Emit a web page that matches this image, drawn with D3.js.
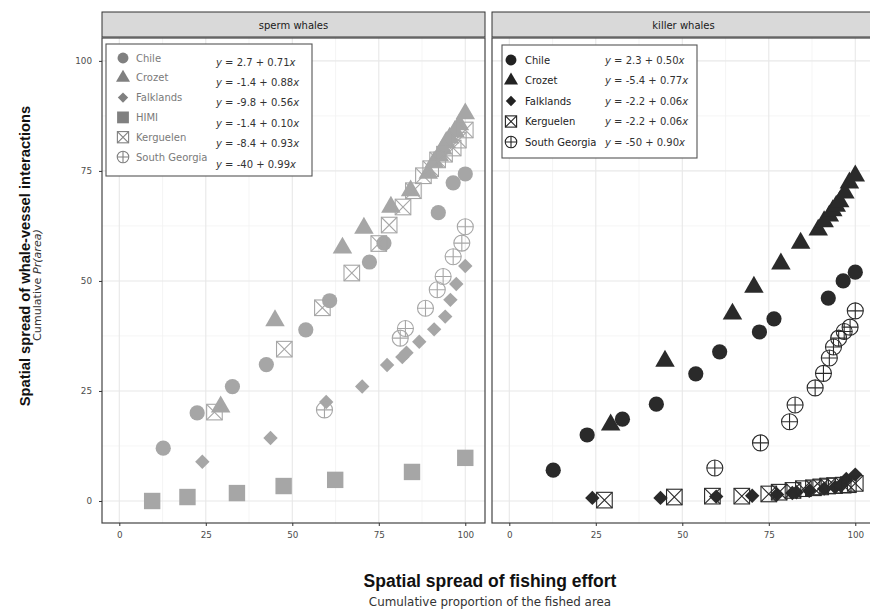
<!DOCTYPE html>
<html><head><meta charset="utf-8">
<script src="https://cdn.jsdelivr.net/npm/d3@7"></script>
<style>body{margin:0;background:#fff;} text{font-family:"DejaVu Sans",Verdana,sans-serif;} text.ttl{font-family:"Liberation Sans",Arial,sans-serif;}</style>
</head><body><svg id="c" width="870" height="610"></svg>
<script>
// ---------- data ----------
const facets = ["sperm whales", "killer whales"];
const xTicks = [0, 25, 50, 75, 100];
const yTicks = [0, 25, 50, 75, 100];

const chileX = [12.7, 22.5, 32.7, 42.5, 53.9, 60.8, 72.3, 76.5, 92.2, 96.5, 100];
const spermChileY = [12, 20, 26, 31, 38.9, 45.5, 54.3, 58.6, 65.5, 72.3, 74.3];
const killerChileY = [7, 15, 18.6, 22, 28.9, 33.9, 38.4, 41.4, 46.1, 50, 52];

const crozetX = [29.3, 45, 64.5, 70.7, 78.5, 84.2, 89.3, 91, 92.5, 93.5, 94.5, 95.5, 97, 98.3, 100];
const spermCrozetY = [21.4, 41, 57.5, 62, 66.8, 70.5, 74.5, 77, 78.5, 80, 81.5, 82.5, 84, 85.5, 88];
const killerCrozetY = [17.3, 31.8, 42.5, 48.6, 53.9, 58.6, 61.6, 63.5, 64.8, 66, 67, 68, 70, 72.3, 73.9];

const falklandsX = [24, 43.7, 59.8, 70.2, 77.4, 81.8, 83, 86.7, 91, 94.2, 95.7, 97.4, 100];
const spermFalklandsY = [8.9, 14.3, 22.5, 26, 30.9, 32.7, 33.7, 36.2, 39, 41.9, 45.7, 49.3, 53.4];
const killerFalklandsY = [0.7, 0.7, 1, 1.2, 1.5, 1.8, 2, 2.3, 2.8, 3.2, 3.6, 5, 6];

const himiX = [9.5, 19.7, 34, 47.5, 62.4, 84.6, 100];
const spermHimiY = [0, 0.9, 1.8, 3.4, 4.8, 6.6, 9.8];

const kerguelenX = [27.5, 47.7, 58.7, 67.2, 75, 78, 82, 85, 87.9, 90, 92, 94, 96.5, 98, 100];
const spermKerguelenY = [20.2, 34.5, 43.9, 51.8, 58.5, 62.7, 66.8, 70.5, 73.9, 75.5, 77.5, 78.8, 80.2, 82, 84.3];
const killerKerguelenY = [0.2, 0.9, 1.1, 1.1, 1.6, 2, 2.4, 2.8, 3, 3.2, 3.4, 3.5, 3.6, 3.7, 4];

const spermGeorgiaX = [59.3, 81.2, 82.7, 88.5, 91.9, 93.6, 96.5, 99, 100];
const spermGeorgiaY = [20.7, 37, 39.2, 43.8, 48, 51, 55.5, 58.6, 62.3];
const killerGeorgiaX = [59.4, 72.6, 81, 82.6, 88.4, 90.8, 92.5, 93.7, 95.2, 96.8, 98.5, 100];
const killerGeorgiaY = [7.5, 13.2, 18, 21.8, 25.7, 29, 32.5, 35, 37, 38.5, 39.5, 43.2];

const spermRegions = ["Chile", "Crozet", "Falklands", "HIMI", "Kerguelen", "South Georgia"];
const spermEquations = [["2.7", "0.71"], ["-1.4", "0.88"], ["-9.8", "0.56"], ["-1.4", "0.10"], ["-8.4", "0.93"], ["-40", "0.99"]];
const killerRegions = ["Chile", "Crozet", "Falklands", "Kerguelen", "South Georgia"];
const killerEquations = [["2.3", "0.50"], ["-5.4", "0.77"], ["-2.2", "0.06"], ["-2.2", "0.06"], ["-50", "0.90"]];

const shapeOf = {"Chile": "circle", "Crozet": "triangle", "Falklands": "diamond", "HIMI": "square", "Kerguelen": "squarecross", "South Georgia": "circleplus"};

// ---------- build ----------
const svg = d3.select("#c");
const W = 383, pTop = 38, pBottom = 523;
const panels = [
  {name: facets[0], x0: 102, color: "#a6a6a6", legColor: "#808080", labColor: "#7a7a7a",
   series: [["Chile", chileX, spermChileY], ["Crozet", crozetX, spermCrozetY], ["Falklands", falklandsX, spermFalklandsY],
            ["HIMI", himiX, spermHimiY], ["Kerguelen", kerguelenX, spermKerguelenY], ["South Georgia", spermGeorgiaX, spermGeorgiaY]],
   regions: spermRegions, eqs: spermEquations,
   box: [106, 44, 206, 132], symX: 123, labX: 136, eqX: 216, labY0: 58, labStep: 19.8, eqY0: 62, eqStep: 20.4},
  {name: facets[1], x0: 492, color: "#2a2a2a", legColor: "#222", labColor: "#222",
   series: [["Chile", chileX, killerChileY], ["Crozet", crozetX, killerCrozetY], ["Falklands", falklandsX, killerFalklandsY],
            ["Kerguelen", kerguelenX, killerKerguelenY], ["South Georgia", killerGeorgiaX, killerGeorgiaY]],
   regions: killerRegions, eqs: killerEquations,
   box: [502, 45, 195, 113], symX: 511, labX: 525, eqX: 605, labY0: 60, labStep: 20.5, eqY0: 60, eqStep: 20.5}
];

const y = d3.scaleLinear().domain([-5, 105.2]).range([pBottom, pTop]);
const minor = [12.5, 37.5, 62.5, 87.5];

function addShape(g, shape, cx, cy, s, color) {
  const sw = 1.1;
  if (shape === "circle") {
    g.append("circle").attr("cx", cx).attr("cy", cy).attr("r", 7.6 * s).attr("fill", color);
  } else if (shape === "triangle") {
    const a = 19.5 * s, h = a * 0.866;
    g.append("path").attr("d", `M${cx},${cy - h * 2 / 3}L${cx + a / 2},${cy + h / 3}L${cx - a / 2},${cy + h / 3}Z`).attr("fill", color);
  } else if (shape === "diamond") {
    const d = 7.2 * s;
    g.append("path").attr("d", `M${cx},${cy - d}L${cx + d},${cy}L${cx},${cy + d}L${cx - d},${cy}Z`).attr("fill", color);
  } else if (shape === "square") {
    const d = 8.2 * s;
    g.append("rect").attr("x", cx - d).attr("y", cy - d).attr("width", 2 * d).attr("height", 2 * d).attr("fill", color);
  } else if (shape === "squarecross") {
    const d = 7.8 * s;
    g.append("rect").attr("x", cx - d).attr("y", cy - d).attr("width", 2 * d).attr("height", 2 * d)
      .attr("fill", "none").attr("stroke", color).attr("stroke-width", sw);
    g.append("path").attr("d", `M${cx - d},${cy - d}L${cx + d},${cy + d}M${cx + d},${cy - d}L${cx - d},${cy + d}`)
      .attr("stroke", color).attr("stroke-width", sw).attr("fill", "none");
  } else if (shape === "circleplus") {
    const r = 8 * s;
    g.append("circle").attr("cx", cx).attr("cy", cy).attr("r", r).attr("fill", "none").attr("stroke", color).attr("stroke-width", sw);
    g.append("path").attr("d", `M${cx - r},${cy}L${cx + r},${cy}M${cx},${cy - r}L${cx},${cy + r}`)
      .attr("stroke", color).attr("stroke-width", sw).attr("fill", "none");
  }
}

const defs = svg.append("defs");

panels.forEach((p, i) => {
  const x = d3.scaleLinear().domain([-5, 105.7]).range([p.x0, p.x0 + W]);
  const g = svg.append("g");
  // strip
  g.append("rect").attr("x", p.x0).attr("y", 12).attr("width", W).attr("height", 25)
    .attr("fill", "#d9d9d9").attr("stroke", "#333").attr("stroke-width", 1);
  g.append("text").attr("x", p.x0 + W / 2).attr("y", 28.5).attr("text-anchor", "middle")
    .attr("font-size", 10).attr("fill", "#1a1a1a").text(p.name);
  // background & grid
  g.append("rect").attr("x", p.x0).attr("y", pTop).attr("width", W).attr("height", pBottom - pTop).attr("fill", "#fff");
  minor.forEach(v => {
    g.append("line").attr("x1", x(v)).attr("x2", x(v)).attr("y1", pTop).attr("y2", pBottom).attr("stroke", "#f2f2f2").attr("stroke-width", 0.8);
    g.append("line").attr("y1", y(v)).attr("y2", y(v)).attr("x1", p.x0).attr("x2", p.x0 + W).attr("stroke", "#f2f2f2").attr("stroke-width", 0.8);
  });
  xTicks.forEach(v => g.append("line").attr("x1", x(v)).attr("x2", x(v)).attr("y1", pTop).attr("y2", pBottom).attr("stroke", "#e8e8e8").attr("stroke-width", 1.1));
  yTicks.forEach(v => g.append("line").attr("y1", y(v)).attr("y2", y(v)).attr("x1", p.x0).attr("x2", p.x0 + W).attr("stroke", "#e8e8e8").attr("stroke-width", 1.1));

  // points
  defs.append("clipPath").attr("id", "clip" + i).append("rect").attr("x", p.x0).attr("y", pTop).attr("width", W).attr("height", pBottom - pTop);
  const pts = g.append("g").attr("clip-path", `url(#clip${i})`);
  p.series.forEach(([reg, xs, ys]) => {
    xs.forEach((xv, k) => addShape(pts, shapeOf[reg], x(xv), y(ys[k]), 1, p.color));
  });

  // border
  g.append("rect").attr("x", p.x0).attr("y", pTop).attr("width", W).attr("height", pBottom - pTop)
    .attr("fill", "none").attr("stroke", "#444").attr("stroke-width", 1.2);

  // x axis
  const xa = g.append("g").attr("transform", `translate(0,${pBottom})`)
    .call(d3.axisBottom(x).tickValues(xTicks).tickSize(3).tickPadding(6).tickFormat(d3.format("d")));
  xa.select(".domain").remove();
  xa.selectAll(".tick line").attr("stroke", "#333");
  xa.selectAll("text").attr("font-size", 8.8).attr("fill", "#4d4d4d");

  if (i === 0) {
    const ya = g.append("g").attr("transform", `translate(${p.x0},0)`)
      .call(d3.axisLeft(y).tickValues(yTicks).tickSize(3).tickPadding(7).tickFormat(d3.format("d")));
    ya.select(".domain").remove();
    ya.selectAll(".tick line").attr("stroke", "#333");
    ya.selectAll("text").attr("font-size", 8.8).attr("fill", "#4d4d4d");
  }

  // legend
  const [bx, by, bw, bh] = p.box;
  g.append("rect").attr("x", bx).attr("y", by).attr("width", bw).attr("height", bh)
    .attr("fill", "#fff").attr("stroke", "#555").attr("stroke-width", 1.1);
  p.regions.forEach((reg, k) => {
    const ly = p.labY0 + k * p.labStep;
    addShape(g, shapeOf[reg], p.symX, ly, 0.72, p.legColor);
    g.append("text").attr("x", p.labX).attr("y", ly + 3.5).attr("font-size", 10).attr("fill", p.labColor).text(reg);
    const ey = p.eqY0 + k * p.eqStep;
    const t = g.append("text").attr("x", p.eqX).attr("y", ey + 3.5).attr("font-size", 10).attr("fill", "#333");
    const [a, b] = p.eqs[k];
    t.append("tspan").attr("font-style", "italic").text("y");
    t.append("tspan").text(` = ${a} + ${b}`);
    t.append("tspan").attr("font-style", "italic").text("x");
  });
});

// axis titles
svg.append("text").attr("class", "ttl").attr("transform", "translate(29.5,256) rotate(-90)").attr("text-anchor", "middle")
  .attr("font-size", 14.7).attr("font-weight", "bold").attr("fill", "#111")
  .text("Spatial spread of whale-vessel interactions");
const sub = svg.append("text").attr("transform", "translate(41,285) rotate(-90)").attr("text-anchor", "middle")
  .attr("font-size", 11.1).attr("fill", "#333");
sub.append("tspan").text("Cumulative ");
sub.append("tspan").attr("font-style", "italic").text("Pr(area)");

svg.append("text").attr("class", "ttl").attr("x", 490).attr("y", 587).attr("text-anchor", "middle")
  .attr("font-size", 17.5).attr("font-weight", "bold").attr("fill", "#111")
  .text("Spatial spread of fishing effort");
svg.append("text").attr("x", 490).attr("y", 605.5).attr("text-anchor", "middle")
  .attr("font-size", 11.9).attr("fill", "#333").text("Cumulative proportion of the fished area");
</script></body></html>
